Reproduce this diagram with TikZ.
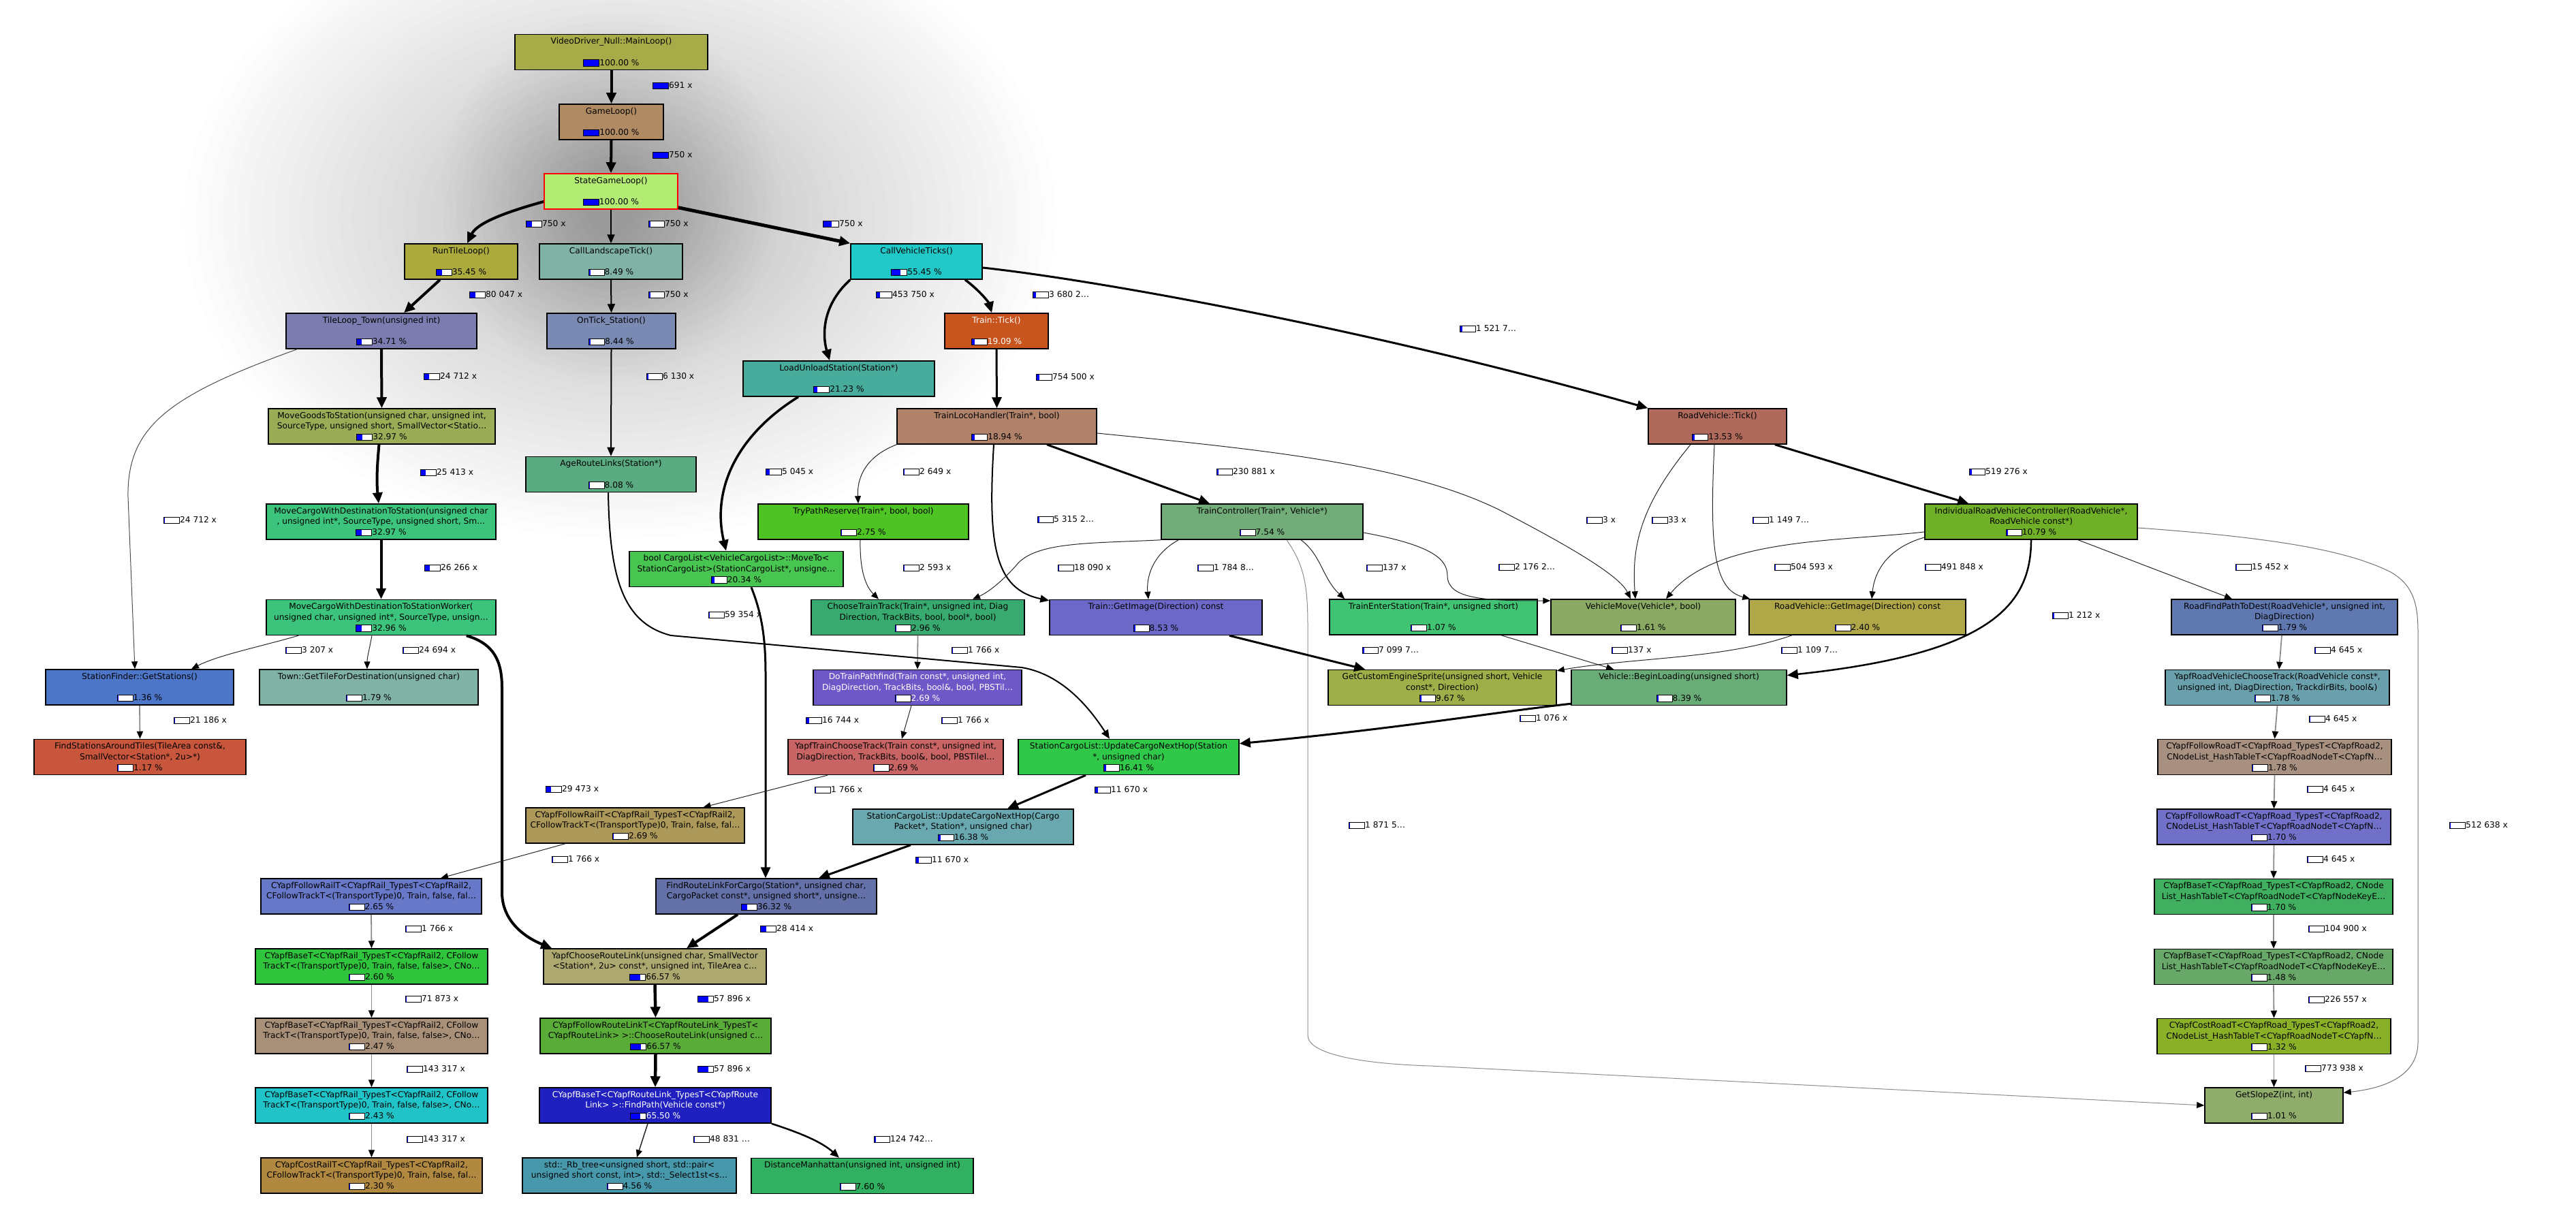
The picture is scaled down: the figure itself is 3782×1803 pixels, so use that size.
\documentclass[tikz,border=0pt]{standalone}
\usepackage{fontspec}
\setmainfont{DejaVu Sans}
\usetikzlibrary{arrows.meta}

\newcommand\callfont{\fontsize{12.2}{15.8}\selectfont}
\definecolor{barblue}{RGB}{0,0,255}
\definecolor{cMain}{RGB}{168,172,72}
\definecolor{cGame}{RGB}{176,138,98}
\definecolor{cState}{RGB}{178,236,114}
\definecolor{cRunTile}{RGB}{172,170,60}
\definecolor{cLand}{RGB}{128,178,166}
\definecolor{cVehTicks}{RGB}{32,200,200}
\definecolor{cTileTown}{RGB}{124,124,176}
\definecolor{cOnTick}{RGB}{122,138,178}
\definecolor{cTrainTick}{RGB}{200,84,30}
\definecolor{cLoadUnload}{RGB}{72,172,156}
\definecolor{cLoco}{RGB}{176,130,106}
\definecolor{cMoveGoods}{RGB}{154,172,86}
\definecolor{cAgeRoute}{RGB}{90,170,130}
\definecolor{cMoveCargo}{RGB}{60,196,124}
\definecolor{cGetStations}{RGB}{78,118,200}
\definecolor{cTownTile}{RGB}{128,178,166}
\definecolor{cFindStations}{RGB}{200,86,60}
\definecolor{cMoveTo}{RGB}{72,196,80}
\definecolor{cTryPath}{RGB}{78,196,36}
\definecolor{cTrainCtrl}{RGB}{114,172,120}
\definecolor{cChooseTrack}{RGB}{56,170,112}
\definecolor{cTrainImg}{RGB}{108,104,200}
\definecolor{cDoPath}{RGB}{110,88,200}
\definecolor{cYapfTrain}{RGB}{200,100,100}
\definecolor{cEnterSt}{RGB}{64,196,116}
\definecolor{cVehMove}{RGB}{138,170,100}
\definecolor{cRvImg}{RGB}{176,168,72}
\definecolor{cEngine}{RGB}{158,174,72}
\definecolor{cBeginLoad}{RGB}{106,172,120}
\definecolor{cRvTick}{RGB}{176,106,92}
\definecolor{cRvCtrl}{RGB}{112,176,40}
\definecolor{cRoadFind}{RGB}{96,120,176}
\definecolor{cYapfRoad}{RGB}{106,160,172}
\definecolor{cFollowRoadA}{RGB}{168,144,128}
\definecolor{cFollowRoadB}{RGB}{112,112,200}
\definecolor{cBaseRoadA}{RGB}{64,176,96}
\definecolor{cBaseRoadB}{RGB}{104,168,104}
\definecolor{cCostRoad}{RGB}{138,176,40}
\definecolor{cSlope}{RGB}{144,172,108}
\definecolor{cHopSt}{RGB}{48,200,72}
\definecolor{cHopPk}{RGB}{106,168,176}
\definecolor{cFollowRailA}{RGB}{172,152,88}
\definecolor{cFollowRailB}{RGB}{104,120,200}
\definecolor{cFindRoute}{RGB}{100,112,168}
\definecolor{cBaseRailA}{RGB}{48,196,60}
\definecolor{cChooseRoute}{RGB}{172,168,112}
\definecolor{cBaseRailB}{RGB}{168,144,120}
\definecolor{cFollowLink}{RGB}{90,172,56}
\definecolor{cBaseRailC}{RGB}{32,196,200}
\definecolor{cFindPath}{RGB}{32,32,192}
\definecolor{cCostRail}{RGB}{176,136,64}
\definecolor{cRbTree}{RGB}{72,152,172}
\definecolor{cManhattan}{RGB}{48,176,96}

% cost bar: white box, blue part
\newcommand\pbar[1]{\raisebox{-0.5pt}{\setlength\fboxsep{0pt}\setlength\fboxrule{1pt}\fcolorbox{black}{white}{\makebox[22pt][l]{\textcolor{barblue}{\rule{#1\dimexpr22pt\relax}{8.5pt}}}}}}

\tikzset{
  fn/.style 2 args={draw, line width=1.5pt, fill=#2, minimum width=#1, minimum height=52pt, inner sep=2pt, align=center, font=\callfont},
  cnt/.style={anchor=west, inner sep=0pt, font=\callfont},
  call/.style={draw=black!85, line width=1pt, -{Triangle[length=11pt,width=9pt,color=black]}},
  cold/.style={call, draw=black!45, line width=1.8pt},
  warm/.style={call, draw=black, line width=2.5pt, -{Triangle[length=13pt,width=11pt]}},
  hot/.style={call, draw=black, line width=4pt, -{Triangle[length=16pt,width=14pt]}},
}

\begin{document}
\begin{tikzpicture}[x=1pt,y=-1pt]
\fill[white] (0,0) rectangle (3782,1803);
\useasboundingbox (0,0) rectangle (3782,1803);

% grey halo round the top
\foreach \k in {0,...,29}
  \fill[black, opacity=.006] (910,320) ellipse [x radius={(640-19*\k)*1pt}, y radius={(470-14*\k)*1pt}];
\foreach \k in {0,...,19}
  \fill[black, opacity=.008] (897,290) ellipse [x radius={(250-11*\k)*1pt}, y radius={(270-11*\k)*1pt}];

% functions
\node[fn={283pt}{cMain}] (mainloop) at (897.5,76.5) {VideoDriver\_Null::MainLoop()\\\strut\\\pbar{1}100.00 \%};
\node[fn={153pt}{cGame}] (gameloop) at (897.5,179) {GameLoop()\\\strut\\\pbar{1}100.00 \%};
\node[fn={196pt}{cState}, draw=red] (stateloop) at (897,281) {StateGameLoop()\\\strut\\\pbar{1}100.00 \%};
\node[fn={166pt}{cRunTile}] (runtile) at (677,384) {RunTileLoop()\\\strut\\\pbar{.3545}35.45 \%};
\node[fn={210pt}{cLand}] (landtick) at (897,384) {CallLandscapeTick()\\\strut\\\pbar{.0849}8.49 \%};
\node[fn={193pt}{cVehTicks}] (vehticks) at (1345.5,384) {CallVehicleTicks()\\\strut\\\pbar{.5545}55.45 \%};
\node[fn={280pt}{cTileTown}] (tiletown) at (560,486) {TileLoop\_Town(unsigned int)\\\strut\\\pbar{.3471}34.71 \%};
\node[fn={189pt}{cOnTick}] (ontick) at (897.5,486) {OnTick\_Station()\\\strut\\\pbar{.0844}8.44 \%};
\node[fn={152pt}{cTrainTick}, text=white] (traintick) at (1463,486) {Train::Tick()\\\strut\\\pbar{.1909}19.09 \%};
\node[fn={281pt}{cLoadUnload}] (loadunload) at (1231.5,556) {LoadUnloadStation(Station*)\\\strut\\\pbar{.2123}21.23 \%};
\node[fn={293pt}{cLoco}] (locohandler) at (1463.5,626) {TrainLocoHandler(Train*, bool)\\\strut\\\pbar{.1894}18.94 \%};
\node[fn={333pt}{cMoveGoods}] (movegoods) at (560.5,626) {MoveGoodsToStation(unsigned char, unsigned int,\\SourceType, unsigned short, SmallVector<Statio…\\\pbar{.3297}32.97 \%};
\node[fn={250pt}{cAgeRoute}] (ageroute) at (897,696.5) {AgeRouteLinks(Station*)\\\strut\\\pbar{.0808}8.08 \%};
\node[fn={337pt}{cMoveCargo}] (movecargo) at (559.5,766) {MoveCargoWithDestinationToStation(unsigned char\\, unsigned int*, SourceType, unsigned short, Sm…\\\pbar{.3297}32.97 \%};
\node[fn={337pt}{cMoveCargo}] (cargoworker) at (559.5,906.5) {MoveCargoWithDestinationToStationWorker(\\unsigned char, unsigned int*, SourceType, unsign…\\\pbar{.3296}32.96 \%};
\node[fn={276pt}{cGetStations}] (getstations) at (205,1009) {StationFinder::GetStations()\\\strut\\\pbar{.0136}1.36 \%};
\node[fn={321pt}{cTownTile}] (towntile) at (541.5,1009) {Town::GetTileForDestination(unsigned char)\\\strut\\\pbar{.0179}1.79 \%};
\node[fn={311pt}{cFindStations}] (findstations) at (205.5,1111.5) {FindStationsAroundTiles(TileArea const\&,\\SmallVector<Station*, 2u>*)\\\pbar{.0117}1.17 \%};
\node[fn={314pt}{cMoveTo}] (moveto) at (1081,835.5) {bool CargoList<VehicleCargoList>::MoveTo<\\StationCargoList>(StationCargoList*, unsigne…\\\pbar{.2034}20.34 \%};
\node[fn={309pt}{cTryPath}] (trypath) at (1267.5,766) {TryPathReserve(Train*, bool, bool)\\\strut\\\pbar{.0275}2.75 \%};
\node[fn={296pt}{cTrainCtrl}] (trainctrl) at (1853,766) {TrainController(Train*, Vehicle*)\\\strut\\\pbar{.0754}7.54 \%};
\node[fn={313pt}{cChooseTrack}] (choosetrack) at (1347.5,906.5) {ChooseTrainTrack(Train*, unsigned int, Diag\\Direction, TrackBits, bool, bool*, bool)\\\pbar{.0296}2.96 \%};
\node[fn={312pt}{cTrainImg}] (traingetimg) at (1697,906.5) {Train::GetImage(Direction) const\\\strut\\\pbar{.0853}8.53 \%};
\node[fn={306pt}{cDoPath}, text=white] (dopathfind) at (1347,1009.5) {DoTrainPathfind(Train const*, unsigned int,\\DiagDirection, TrackBits, bool\&, bool, PBSTil…\\\pbar{.0269}2.69 \%};
\node[fn={316pt}{cYapfTrain}] (yapftrain) at (1315,1111.5) {YapfTrainChooseTrack(Train const*, unsigned int,\\DiagDirection, TrackBits, bool\&, bool, PBSTileI…\\\pbar{.0269}2.69 \%};
\node[fn={305pt}{cEnterSt}] (enterstation) at (2104.5,906) {TrainEnterStation(Train*, unsigned short)\\\strut\\\pbar{.0107}1.07 \%};
\node[fn={271pt}{cVehMove}] (vehmove) at (2412.5,906) {VehicleMove(Vehicle*, bool)\\\strut\\\pbar{.0161}1.61 \%};
\node[fn={318pt}{cRvImg}] (rvgetimg) at (2727,906) {RoadVehicle::GetImage(Direction) const\\\strut\\\pbar{.024}2.40 \%};
\node[fn={335pt}{cEngine}] (enginesprite) at (2117.5,1009.5) {GetCustomEngineSprite(unsigned short, Vehicle\\const*, Direction)\\\pbar{.0967}9.67 \%};
\node[fn={316pt}{cBeginLoad}] (beginload) at (2465,1009.5) {Vehicle::BeginLoading(unsigned short)\\\strut\\\pbar{.0839}8.39 \%};
\node[fn={203pt}{cRvTick}] (rvtick) at (2521.5,626) {RoadVehicle::Tick()\\\strut\\\pbar{.1353}13.53 \%};
\node[fn={312pt}{cRvCtrl}] (rvctrl) at (2982,766) {IndividualRoadVehicleController(RoadVehicle*,\\RoadVehicle const*)\\\pbar{.1079}10.79 \%};
\node[fn={332pt}{cRoadFind}] (roadfind) at (3354,906) {RoadFindPathToDest(RoadVehicle*, unsigned int,\\DiagDirection)\\\pbar{.0179}1.79 \%};
\node[fn={329pt}{cYapfRoad}] (yapfroad) at (3343.5,1009.5) {YapfRoadVehicleChooseTrack(RoadVehicle const*,\\unsigned int, DiagDirection, TrackdirBits, bool\&)\\\pbar{.0178}1.78 \%};
\node[fn={343pt}{cFollowRoadA}] (followroad1) at (3339.5,1111.5) {CYapfFollowRoadT<CYapfRoad\_TypesT<CYapfRoad2,\\CNodeList\_HashTableT<CYapfRoadNodeT<CYapfN…\\\pbar{.0178}1.78 \%};
\node[fn={343pt}{cFollowRoadB}] (followroad2) at (3338.5,1214) {CYapfFollowRoadT<CYapfRoad\_TypesT<CYapfRoad2,\\CNodeList\_HashTableT<CYapfRoadNodeT<CYapfN…\\\pbar{.017}1.70 \%};
\node[fn={350pt}{cBaseRoadA}] (baseroad1) at (3338,1316.5) {CYapfBaseT<CYapfRoad\_TypesT<CYapfRoad2, CNode\\List\_HashTableT<CYapfRoadNodeT<CYapfNodeKeyE…\\\pbar{.017}1.70 \%};
\node[fn={350pt}{cBaseRoadB}] (baseroad2) at (3338,1419.5) {CYapfBaseT<CYapfRoad\_TypesT<CYapfRoad2, CNode\\List\_HashTableT<CYapfRoadNodeT<CYapfNodeKeyE…\\\pbar{.0148}1.48 \%};
\node[fn={343pt}{cCostRoad}] (costroad) at (3338.5,1521.5) {CYapfCostRoadT<CYapfRoad\_TypesT<CYapfRoad2,\\CNodeList\_HashTableT<CYapfRoadNodeT<CYapfN…\\\pbar{.0132}1.32 \%};
\node[fn={203pt}{cSlope}] (slopez) at (3338.5,1623) {GetSlopeZ(int, int)\\\strut\\\pbar{.0101}1.01 \%};
\node[fn={324pt}{cHopSt}] (nexthopst) at (1657,1111.5) {StationCargoList::UpdateCargoNextHop(Station\\*, unsigned char)\\\pbar{.1641}16.41 \%};
\node[fn={324pt}{cHopPk}] (nexthoppk) at (1414,1214) {StationCargoList::UpdateCargoNextHop(Cargo\\Packet*, Station*, unsigned char)\\\pbar{.1638}16.38 \%};
\node[fn={321pt}{cFollowRailA}] (followrail1) at (932.5,1212) {CYapfFollowRailT<CYapfRail\_TypesT<CYapfRail2,\\CFollowTrackT<(TransportType)0, Train, false, fal…\\\pbar{.0269}2.69 \%};
\node[fn={324pt}{cFollowRailB}] (followrail2) at (545,1316) {CYapfFollowRailT<CYapfRail\_TypesT<CYapfRail2,\\CFollowTrackT<(TransportType)0, Train, false, fal…\\\pbar{.0265}2.65 \%};
\node[fn={324pt}{cFindRoute}] (findroute) at (1125,1316) {FindRouteLinkForCargo(Station*, unsigned char,\\CargoPacket const*, unsigned short*, unsigne…\\\pbar{.3632}36.32 \%};
\node[fn={341pt}{cBaseRailA}] (baserail1) at (545.5,1419) {CYapfBaseT<CYapfRail\_TypesT<CYapfRail2, CFollow\\TrackT<(TransportType)0, Train, false, false>, CNo…\\\pbar{.026}2.60 \%};
\node[fn={327pt}{cChooseRoute}] (chooseroute) at (961.5,1419) {YapfChooseRouteLink(unsigned char, SmallVector\\<Station*, 2u> const*, unsigned int, TileArea c…\\\pbar{.6657}66.57 \%};
\node[fn={341pt}{cBaseRailB}] (baserail2) at (545.5,1521) {CYapfBaseT<CYapfRail\_TypesT<CYapfRail2, CFollow\\TrackT<(TransportType)0, Train, false, false>, CNo…\\\pbar{.0247}2.47 \%};
\node[fn={339pt}{cFollowLink}] (followlink) at (962.5,1521) {CYapfFollowRouteLinkT<CYapfRouteLink\_TypesT<\\CYapfRouteLink> >::ChooseRouteLink(unsigned c…\\\pbar{.6657}66.57 \%};
\node[fn={341pt}{cBaseRailC}] (baserail3) at (545.5,1623) {CYapfBaseT<CYapfRail\_TypesT<CYapfRail2, CFollow\\TrackT<(TransportType)0, Train, false, false>, CNo…\\\pbar{.0243}2.43 \%};
\node[fn={340pt}{cFindPath}, text=white] (findpath) at (962,1623) {CYapfBaseT<CYapfRouteLink\_TypesT<CYapfRoute\\Link> >::FindPath(Vehicle const*)\\\pbar{.655}65.50 \%};
\node[fn={325pt}{cCostRail}] (costrail) at (545.5,1726) {CYapfCostRailT<CYapfRail\_TypesT<CYapfRail2,\\CFollowTrackT<(TransportType)0, Train, false, fal…\\\pbar{.023}2.30 \%};
\node[fn={314pt}{cRbTree}] (rbtree) at (924,1726) {std::\_Rb\_tree<unsigned short, std::pair<\\unsigned short const, int>, std::\_Select1st<s…\\\pbar{.0456}4.56 \%};
\node[fn={326pt}{cManhattan}] (manhattan) at (1266,1726.5) {DistanceManhattan(unsigned int, unsigned int)\\\strut\\\pbar{.076}7.60 \%};

% calls
\draw[hot] (mainloop.south) -- (gameloop.north);
\draw[hot] (gameloop.south) -- (stateloop.north);
\draw[hot] ([yshift=-15pt]stateloop.west) .. controls (740,312) and (700,328) .. ([xshift=9pt]runtile.north);
\draw[warm, line width=2pt] (stateloop.south) -- (landtick.north);
\draw[hot, line width=5pt] ([yshift=3pt]stateloop.south east) -- (vehticks.north west);
\draw[hot] ([xshift=-31pt]runtile.south) -- ([xshift=33pt]tiletown.north);
\draw[warm, line width=2pt] (landtick.south) -- (ontick.north);
\draw[hot, line width=3.5pt] (vehticks.south west) .. controls (1205,450) and (1208,495) .. ([xshift=-13.5pt]loadunload.north);
\draw[hot, line width=3.5pt] ([xshift=71.5pt]vehticks.south) .. controls (1440,428) and (1452,445) .. ([xshift=-7pt]traintick.north);
\draw[hot, line width=3pt] ([yshift=-9pt]vehticks.east) .. controls (1600,410) and (2000,480) .. (rvtick.north west);
\draw[hot] (tiletown.south) -- (movegoods.north);
\draw[call, draw=black!70] ([xshift=17pt]tiletown.south west) .. controls (250,580) and (186,625) .. (188,730) -- ([xshift=-7pt]getstations.north);
\draw[warm, line width=2pt] (ontick.south) -- (ageroute.north);
\draw[hot, line width=3.5pt] ([xshift=-59.5pt]loadunload.south) .. controls (1080,640) and (1045,720) .. ([xshift=-15pt]moveto.north);
\draw[hot, line width=3pt] (traintick.south) -- (locohandler.north);
\draw[call] (locohandler.south west) .. controls (1272,670) and (1258,700) .. ([xshift=-7.5pt]trypath.north);
\draw[warm, line width=2pt] ([xshift=-4.5pt]locohandler.south) .. controls (1450,800) and (1460,865) .. ([yshift=-2pt]traingetimg.north west);
\draw[hot, line width=3pt] ([xshift=73.5pt]locohandler.south) -- ([xshift=-77pt]trainctrl.north);
\draw[call] ([yshift=-10pt]locohandler.east) .. controls (1850,660) and (2060,680) .. (2200,748) .. controls (2330,815) and (2380,850) .. ([xshift=-18.5pt]vehmove.north);
\draw[call] ([xshift=-39.5pt]rvtick.south) .. controls (2410,740) and (2395,800) .. ([xshift=-11.5pt]vehmove.north);
\draw[call] ([xshift=-4.5pt]rvtick.south) .. controls (2510,800) and (2515,865) .. ([xshift=2pt]rvgetimg.north west);
\draw[call] ([yshift=-16pt]trainctrl.east) .. controls (2100,800) and (2125,820) .. (2125,845) .. controls (2125,880) and (2180,882) .. ([yshift=24pt]vehmove.west);
\draw[call] ([yshift=-15pt]rvctrl.west) .. controls (2700,795) and (2520,790) .. ([xshift=33.5pt]vehmove.north);
\draw[call] ([yshift=-23pt]rvctrl.west) .. controls (2770,805) and (2752,840) .. ([xshift=21pt]rvgetimg.north);
\draw[hot, line width=2.5pt] (rvctrl.south) .. controls (2982,890) and (2920,960) .. ([yshift=18pt]beginload.east);
\draw[call] ([xshift=69pt]rvctrl.south) -- ([xshift=-77pt]roadfind.north);
\draw[call, draw=black!55] ([yshift=-9pt]rvctrl.east) .. controls (3350,790) and (3450,810) .. (3510,840) .. controls (3545,860) and (3550,890) .. (3550,930) -- (3550,1530) .. controls (3550,1580) and (3500,1598) .. ([yshift=-8pt]slopez.north east);
\draw[hot, line width=3pt] ([xshift=-18pt]rvtick.south east) -- ([xshift=65pt]rvctrl.north west);
\draw[call] (trainctrl.south west) .. controls (1600,798) and (1520,795) .. (1492,830) .. controls (1470,855) and (1450,870) .. ([xshift=80.5pt]choosetrack.north);
\draw[call] ([xshift=26pt]trainctrl.south west) .. controls (1690,815) and (1683,850) .. ([xshift=-11pt]traingetimg.north);
\draw[call] ([xshift=57pt]trainctrl.south) .. controls (1940,815) and (1942,850) .. ([xshift=23pt]enterstation.north west);
\draw[call, draw=black!45] ([xshift=36pt]trainctrl.south) .. controls (1915,830) and (1920,860) .. (1920,920) -- (1920,1520) .. controls (1920,1548) and (2000,1562) .. (2100,1565) -- (slopez.west);
\draw[call] ([xshift=-4.5pt]trypath.south) .. controls (1262,840) and (1272,862) .. ([xshift=-57.5pt]choosetrack.north);
\draw[cold] (choosetrack.south) -- (dopathfind.north);
\draw[hot, line width=3pt] ([xshift=108pt]traingetimg.south) -- ([xshift=55pt]enginesprite.north west);
\draw[call] ([xshift=99.5pt]enterstation.south) -- ([xshift=63pt]beginload.north west);
\draw[call] ([xshift=-96pt]rvgetimg.south) .. controls (2530,968) and (2400,965) .. ([yshift=-2pt]enginesprite.north east);
\draw[hot, line width=3pt] ([yshift=3pt]beginload.south west) .. controls (2200,1045) and (2050,1070) .. ([yshift=-7pt]nexthopst.north east);
\draw[call] ([xshift=-9pt]dopathfind.south) -- ([xshift=9pt]yapftrain.north);
\draw[hot, line width=3pt] ([xshift=22pt]moveto.south) .. controls (1118,900) and (1124,935) .. (1124,990) -- ([xshift=-1pt]findroute.north);
\draw[warm, line width=2pt] ([xshift=-4pt]ageroute.south) .. controls (895,850) and (915,915) .. (985,933) -- (1500,980) .. controls (1560,990) and (1600,1040) .. ([xshift=-28pt]nexthopst.north);
\draw[hot, line width=3pt] ([xshift=-63pt]nexthopst.south) -- ([xshift=65pt]nexthoppk.north);
\draw[hot, line width=3pt] ([xshift=-77pt]nexthoppk.south) -- ([xshift=77pt]findroute.north);
\draw[hot] ([xshift=-42pt]findroute.south) -- ([xshift=46.5pt]chooseroute.north);
\draw[hot] ([xshift=-44pt]cargoworker.south east) .. controls (725,945) and (737,970) .. (737,1010) -- (737,1310) .. controls (737,1352) and (770,1376) .. ([xshift=13pt]chooseroute.north west);
\draw[call] ([xshift=-121.5pt]cargoworker.south) .. controls (380,950) and (320,962) .. ([xshift=76pt]getstations.north);
\draw[call] ([xshift=-13.5pt]cargoworker.south) .. controls (542,955) and (539,965) .. ([xshift=-2.5pt]towntile.north);
\draw[cold] (getstations.south) -- (findstations.north);
\draw[hot] ([xshift=-4pt]movegoods.south) .. controls (553,690) and (553,710) .. ([xshift=-3.5pt]movecargo.north);
\draw[hot] (movecargo.south) -- (cargoworker.north);
\draw[call] ([xshift=-100pt]yapftrain.south) -- ([xshift=100pt]followrail1.north);
\draw[call] ([xshift=-102.5pt]followrail1.south) -- ([xshift=102pt]followrail2.north);
\draw[cold] (followrail2.south) -- (baserail1.north);
\draw[cold] (baserail1.south) -- (baserail2.north);
\draw[cold] (baserail2.south) -- (baserail3.north);
\draw[cold] (baserail3.south) -- (costrail.north);
\draw[hot, line width=4.5pt] (chooseroute.south) -- (followlink.north);
\draw[hot, line width=4.5pt] (followlink.south) -- (findpath.north);
\draw[call, line width=1.5pt] ([xshift=-11pt]findpath.south) -- ([xshift=11pt]rbtree.north);
\draw[warm] (findpath.south east) .. controls (1180,1665) and (1208,1678) .. ([xshift=-34pt]manhattan.north);
\draw[cold] ([xshift=-4pt]roadfind.south) -- ([xshift=2.5pt]yapfroad.north);
\draw[cold] (yapfroad.south) -- (followroad1.north);
\draw[cold] (followroad1.south) -- (followroad2.north);
\draw[cold] (followroad2.south) -- (baseroad1.north);
\draw[cold] (baseroad1.south) -- (baseroad2.north);
\draw[cold] (baseroad2.south) -- (costroad.north);
\draw[cold] (costroad.south) -- (slopez.north);

% call counts
\node[cnt] (k1) at (958,126) {\pbar{1}691 x};
\node[cnt] (k2) at (958,228) {\pbar{1}750 x};
\node[cnt] (k3) at (772,329) {\pbar{.35}750 x};
\node[cnt] (k4) at (952,329) {\pbar{.085}750 x};
\node[cnt] (k5) at (1208,329) {\pbar{.55}750 x};
\node[cnt] (k6) at (689,433) {\pbar{.35}80 047 x};
\node[cnt] (k7) at (952,433) {\pbar{.085}750 x};
\node[cnt] (k8) at (1286,433) {\pbar{.21}453 750 x};
\node[cnt] (k9) at (1516,433) {\pbar{.19}3 680 2…};
\node[cnt] (k10) at (2143,483) {\pbar{.135}1 521 7…};
\node[cnt] (k11) at (622,553) {\pbar{.33}24 712 x};
\node[cnt] (k12) at (240,764) {\pbar{.014}24 712 x};
\node[cnt] (k13) at (949,553) {\pbar{.08}6 130 x};
\node[cnt] (k14) at (1124,693) {\pbar{.2}5 045 x};
\node[cnt] (k15) at (1521,554) {\pbar{.19}754 500 x};
\node[cnt] (k16) at (1326,693) {\pbar{.03}2 649 x};
\node[cnt] (k17) at (1523,763) {\pbar{.085}5 315 2…};
\node[cnt] (k18) at (1786,693) {\pbar{.075}230 881 x};
\node[cnt] (k19) at (2329,764) {\pbar{.01}3 x};
\node[cnt] (k20) at (2425,764) {\pbar{.01}33 x};
\node[cnt] (k21) at (2573,764) {\pbar{.024}1 149 7…};
\node[cnt] (k22) at (2200,833) {\pbar{.01}2 176 2…};
\node[cnt] (k23) at (2605,833) {\pbar{.016}504 593 x};
\node[cnt] (k24) at (2826,833) {\pbar{.024}491 848 x};
\node[cnt] (k25) at (3013,904) {\pbar{.084}1 212 x};
\node[cnt] (k26) at (3282,833) {\pbar{.018}15 452 x};
\node[cnt] (k27) at (3596,1212) {\pbar{.01}512 638 x};
\node[cnt] (k28) at (2891,693) {\pbar{.108}519 276 x};
\node[cnt] (k29) at (1553,834) {\pbar{.03}18 090 x};
\node[cnt] (k30) at (1758,834) {\pbar{.01}1 784 8…};
\node[cnt] (k31) at (2006,834) {\pbar{.01}137 x};
\node[cnt] (k32) at (1980,1212) {\pbar{.01}1 871 5…};
\node[cnt] (k33) at (1326,834) {\pbar{.03}2 593 x};
\node[cnt] (k34) at (1397,955) {\pbar{.027}1 766 x};
\node[cnt] (k35) at (2000,955) {\pbar{.085}7 099 7…};
\node[cnt] (k36) at (2366,955) {\pbar{.01}137 x};
\node[cnt] (k37) at (2615,955) {\pbar{.024}1 109 7…};
\node[cnt] (k38) at (2231,1055) {\pbar{.01}1 076 x};
\node[cnt] (k39) at (1382,1058) {\pbar{.027}1 766 x};
\node[cnt] (k40) at (1183,1058) {\pbar{.16}16 744 x};
\node[cnt] (k41) at (1040,903) {\pbar{.05}59 354 x};
\node[cnt] (k42) at (1607,1160) {\pbar{.16}11 670 x};
\node[cnt] (k43) at (1344,1263) {\pbar{.16}11 670 x};
\node[cnt] (k44) at (1116,1364) {\pbar{.36}28 414 x};
\node[cnt] (k45) at (801,1159) {\pbar{.3}29 473 x};
\node[cnt] (k46) at (419,955) {\pbar{.014}3 207 x};
\node[cnt] (k47) at (591,955) {\pbar{.018}24 694 x};
\node[cnt] (k48) at (255,1058) {\pbar{.012}21 186 x};
\node[cnt] (k49) at (617,694) {\pbar{.33}25 413 x};
\node[cnt] (k50) at (623,834) {\pbar{.33}26 266 x};
\node[cnt] (k51) at (1196,1160) {\pbar{.027}1 766 x};
\node[cnt] (k52) at (810,1262) {\pbar{.027}1 766 x};
\node[cnt] (k53) at (595,1364) {\pbar{.026}1 766 x};
\node[cnt] (k54) at (595,1467) {\pbar{.025}71 873 x};
\node[cnt] (k55) at (597,1570) {\pbar{.024}143 317 x};
\node[cnt] (k56) at (597,1673) {\pbar{.023}143 317 x};
\node[cnt] (k57) at (1024,1467) {\pbar{.66}57 896 x};
\node[cnt] (k58) at (1024,1570) {\pbar{.66}57 896 x};
\node[cnt] (k59) at (1018,1673) {\pbar{.046}48 831 …};
\node[cnt] (k60) at (1283,1673) {\pbar{.076}124 742…};
\node[cnt] (k61) at (3398,955) {\pbar{.018}4 645 x};
\node[cnt] (k62) at (3390,1056) {\pbar{.018}4 645 x};
\node[cnt] (k63) at (3387,1159) {\pbar{.017}4 645 x};
\node[cnt] (k64) at (3387,1262) {\pbar{.017}4 645 x};
\node[cnt] (k65) at (3389,1364) {\pbar{.015}104 900 x};
\node[cnt] (k66) at (3389,1468) {\pbar{.013}226 557 x};
\node[cnt] (k67) at (3384,1569) {\pbar{.01}773 938 x};
\end{tikzpicture}
\end{document}
